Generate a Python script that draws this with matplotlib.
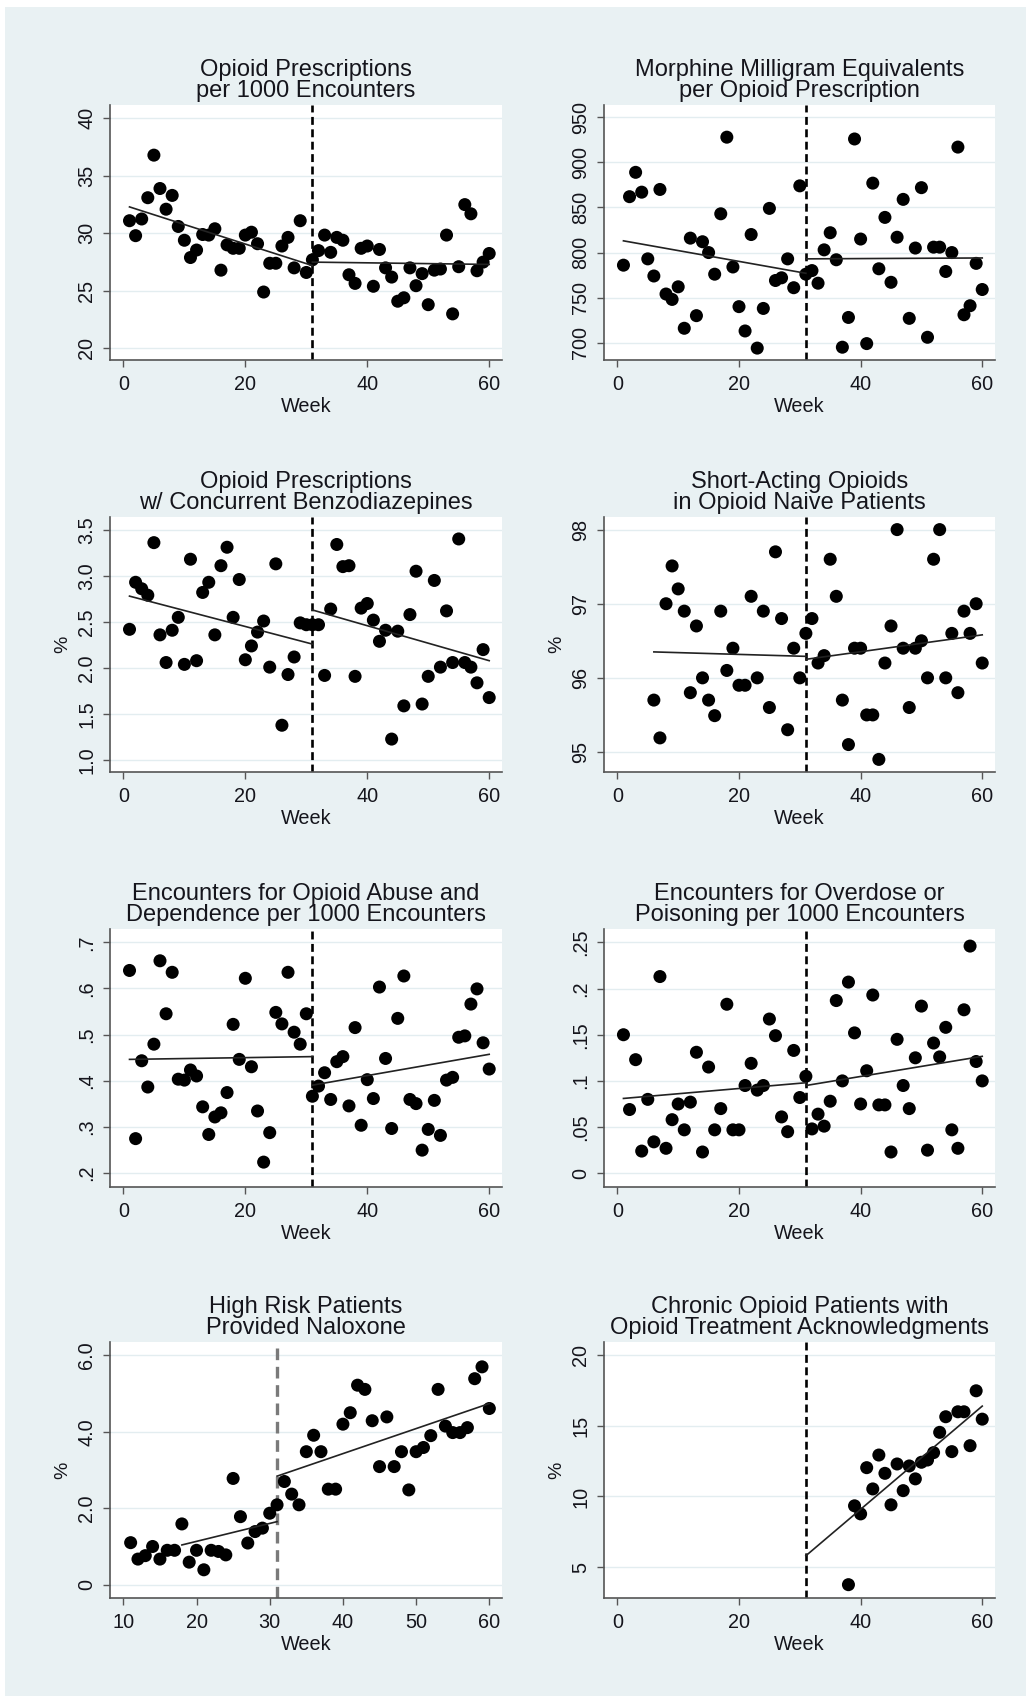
import numpy as np
import matplotlib
matplotlib.use("Agg")
import matplotlib.pyplot as plt
from matplotlib.patches import Rectangle

plt.rcParams['font.family'] = ['Liberation Sans', 'DejaVu Sans']

# ---- data ----
titles = [
    "Opioid Prescriptions\nper 1000 Encounters",
    "Morphine Milligram Equivalents\nper Opioid Prescription",
    "Opioid Prescriptions\nw/ Concurrent Benzodiazepines",
    "Short-Acting Opioids\nin Opioid Naive Patients",
    "Encounters for Opioid Abuse and\nDependence per 1000 Encounters",
    "Encounters for Overdose or\nPoisoning per 1000 Encounters",
    "High Risk Patients\nProvided Naloxone",
    "Chronic Opioid Patients with\nOpioid Treatment Acknowledgments",
]

weeks_all = np.arange(1, 61)
weeks_sa = np.arange(6, 61)
weeks_nal = np.arange(11, 61)
weeks_ota = np.arange(38, 61)

rx_per_1000 = [31.1, 29.8, 31.25, 33.1, 36.8, 33.9, 32.1, 33.3, 30.6, 29.4,
               27.9, 28.55, 29.9, 29.85, 30.4, 26.8, 29.0, 28.7, 28.7, 29.85,
               30.1, 29.1, 24.9, 27.4, 27.4, 28.9, 29.65, 27.0, 31.1, 26.6,
               27.7, 28.5, 29.85, 28.35, 29.65, 29.4, 26.4, 25.65, 28.7, 28.9,
               25.4, 28.6, 27.0, 26.2, 24.1, 24.4, 27.0, 25.45, 26.5, 23.8,
               26.8, 26.9, 29.85, 23.0, 27.1, 32.5, 31.7, 26.75, 27.5, 28.25]

mme_per_rx = [786, 862, 889, 867, 793, 774, 870, 754, 748, 762,
              716, 816, 730, 812, 800, 776, 843, 928, 784, 740,
              713, 820, 694, 738, 849, 769, 772, 793, 761, 874,
              776, 780, 766, 803, 822, 792, 695, 728, 926, 815,
              699, 877, 782, 839, 767, 817, 859, 727, 805, 872,
              706, 806, 806, 779, 800, 917, 731, 741, 788, 759]

benzo_pct = [2.42, 2.93, 2.86, 2.79, 3.36, 2.36, 2.06, 2.41, 2.55, 2.04,
             3.18, 2.08, 2.82, 2.93, 2.36, 3.11, 3.31, 2.55, 2.96, 2.09,
             2.24, 2.39, 2.51, 2.01, 3.13, 1.38, 1.93, 2.12, 2.49, 2.47,
             2.47, 2.47, 1.92, 2.64, 3.34, 3.10, 3.11, 1.91, 2.65, 2.70,
             2.52, 2.29, 2.41, 1.23, 2.40, 1.59, 2.58, 3.05, 1.61, 1.91,
             2.95, 2.01, 2.62, 2.06, 3.40, 2.06, 2.01, 1.84, 2.20, 1.68]

short_acting_pct = [95.70, 95.19, 97.0, 97.51, 97.2, 96.9, 95.8, 96.7, 96.0, 95.7,
                    95.49, 96.9, 96.1, 96.4, 95.9, 95.9, 97.1, 96.0, 96.9, 95.6,
                    97.7, 96.8, 95.3, 96.4, 96.0, 96.6, 96.8, 96.2, 96.3, 97.6,
                    97.1, 95.7, 95.1, 96.4, 96.4, 95.5, 95.5, 94.9, 96.2, 96.7,
                    98.0, 96.4, 95.6, 96.4, 96.5, 96.0, 97.6, 98.0, 96.0, 96.6,
                    95.8, 96.9, 96.6, 97.0, 96.2]

abuse_per_1000 = [0.639, 0.274, 0.443, 0.386, 0.479, 0.660, 0.545, 0.635, 0.403, 0.401,
                  0.423, 0.410, 0.343, 0.283, 0.321, 0.330, 0.374, 0.522, 0.446, 0.622,
                  0.430, 0.334, 0.223, 0.287, 0.548, 0.523, 0.635, 0.505, 0.479, 0.545,
                  0.366, 0.388, 0.417, 0.359, 0.441, 0.452, 0.345, 0.515, 0.303, 0.402,
                  0.361, 0.603, 0.448, 0.296, 0.535, 0.627, 0.359, 0.350, 0.249, 0.294,
                  0.357, 0.281, 0.401, 0.407, 0.494, 0.497, 0.566, 0.599, 0.482, 0.425]

overdose_per_1000 = [0.150, 0.069, 0.123, 0.024, 0.080, 0.034, 0.213, 0.027, 0.058, 0.075,
                     0.047, 0.077, 0.131, 0.023, 0.115, 0.047, 0.070, 0.183, 0.047, 0.047,
                     0.095, 0.119, 0.090, 0.095, 0.167, 0.149, 0.061, 0.045, 0.133, 0.082,
                     0.105, 0.048, 0.064, 0.051, 0.078, 0.187, 0.100, 0.207, 0.152, 0.075,
                     0.111, 0.193, 0.074, 0.074, 0.023, 0.145, 0.095, 0.070, 0.125, 0.181,
                     0.025, 0.141, 0.126, 0.158, 0.047, 0.027, 0.177, 0.246, 0.121, 0.100]

naloxone_pct = [1.10, 0.67, 0.76, 1.00, 0.67, 0.90, 0.90, 1.59, 0.59, 0.90,
                0.39, 0.90, 0.87, 0.78, 2.78, 1.78, 1.09, 1.39, 1.48, 1.87,
                2.09, 2.70, 2.37, 2.09, 3.48, 3.91, 3.48, 2.50, 2.50, 4.20,
                4.50, 5.22, 5.11, 4.29, 3.09, 4.39, 3.09, 3.48, 2.48, 3.48,
                3.59, 3.90, 5.11, 4.15, 3.98, 3.98, 4.11, 5.39, 5.70, 4.61]

ota_pct = [3.78, 9.34, 8.77, 12.03, 10.53, 12.92, 11.63, 9.41, 12.29, 10.41,
           12.15, 11.24, 12.41, 12.57, 13.09, 14.52, 15.62, 13.16, 15.97, 15.97,
           13.58, 17.45, 15.45]

# fitted segments (week endpoints, fitted values) as drawn in the figure
fit_rx = [([1, 31], [32.3, 27.2]), ([31, 60], [27.5, 27.3])]
fit_mme = [([1, 31], [813, 777]), ([31, 60], [793, 794])]
fit_benzo = [([1, 31], [2.78, 2.26]), ([31, 60], [2.63, 2.08])]
fit_sa = [([6, 31], [96.35, 96.29]), ([31, 60], [96.25, 96.58])]
fit_abuse = [([1, 31], [0.446, 0.452]), ([31, 60], [0.390, 0.457])]
fit_od = [([1, 31], [0.081, 0.098]), ([31, 60], [0.095, 0.1266])]
fit_nal = [([18, 31], [1.04, 1.65]), ([31, 60], [2.84, 4.74])]
fit_ota = [([31, 60], [5.82, 16.37])]

intervention_week = 31

yticks_rx = [20, 25, 30, 35, 40]
yticks_mme = [700, 750, 800, 850, 900, 950]
yticks_benzo = [1.0, 1.5, 2.0, 2.5, 3.0, 3.5]
ylabels_benzo = ["1.0", "1.5", "2.0", "2.5", "3.0", "3.5"]
yticks_sa = [95, 96, 97, 98]
yticks_abuse = [0.2, 0.3, 0.4, 0.5, 0.6, 0.7]
ylabels_abuse = [".2", ".3", ".4", ".5", ".6", ".7"]
yticks_od = [0, 0.05, 0.1, 0.15, 0.2, 0.25]
ylabels_od = ["0", ".05", ".1", ".15", ".2", ".25"]
yticks_nal = [0, 2, 4, 6]
ylabels_nal = ["0", "2.0", "4.0", "6.0"]
yticks_ota = [5, 10, 15, 20]

# ---- styling ----
BG = '#e9f1f3'
GRID = '#e3edf0'
TXT = '#15151c'
AX = '#555555'

fig = plt.figure(figsize=(10.26, 16.96), dpi=100, facecolor='white')
fig.patches.append(Rectangle((5 / 1026, 0), 1, 1 - 7 / 1696, transform=fig.transFigure,
                             facecolor=BG, edgecolor='none', zorder=-10))

W, H = 1026, 1696
cols = [(110, 502), (604, 995)]
rows = [(105, 360), (517, 772), (929, 1187), (1342, 1598)]


def make_ax(r, c):
    x0, x1 = cols[c]
    y0, y1 = rows[r]
    return fig.add_axes([x0 / W, 1 - y1 / H, (x1 - x0) / W, (y1 - y0) / H])


def panel(ax, title, weeks, vals, fits, ylim, yticks, ylabels=None,
          xlim=(-2.2, 62.1), xticks=(0, 20, 40, 60), ylabel=None, gray_vline=False):
    ax.set_facecolor('white')
    for s in ['top', 'right']:
        ax.spines[s].set_visible(False)
    for s in ['left', 'bottom']:
        ax.spines[s].set_color(AX)
        ax.spines[s].set_linewidth(1.2)
    ax.set_xlim(*xlim)
    ax.set_ylim(*ylim)
    ax.set_xticks(list(xticks))
    ax.set_yticks(yticks)
    if ylabels is not None:
        ax.set_yticklabels(ylabels)
    for t in yticks:
        ax.axhline(t, color=GRID, lw=1.0, zorder=0)
    ax.tick_params(axis='both', length=5, width=1.0, color=AX, labelsize=14.3,
                   labelcolor=TXT)
    ax.tick_params(axis='x', pad=6)
    ax.tick_params(axis='y', pad=5, labelrotation=90)
    for lab in ax.get_yticklabels():
        lab.set_va('center')
    if gray_vline:
        ax.axvline(intervention_week, color='#7a7a7a', lw=2.4, ls=(0, (3.5, 2)), zorder=1)
    else:
        ax.axvline(intervention_week, color='black', lw=1.9, ls=(0, (3, 1.7)), zorder=1)
    ax.scatter(weeks, vals, s=88, color='black', edgecolors='none', zorder=3)
    for fx, fy in fits:
        ax.plot(fx, fy, color='#222222', lw=1.2, zorder=4)
    ax.set_title(title, fontsize=17, color=TXT, pad=6, linespacing=0.95)
    ax.set_xlabel("Week", fontsize=14.3, color=TXT, labelpad=2)
    if ylabel:
        ax.set_ylabel(ylabel, fontsize=14, color=TXT)
        ax.yaxis.set_label_coords(-0.10, 0.5)


panel(make_ax(0, 0), titles[0], weeks_all, rx_per_1000, fit_rx, (18.99, 41.16), yticks_rx)
panel(make_ax(0, 1), titles[1], weeks_all, mme_per_rx, fit_mme, (680.8, 963.7), yticks_mme)
panel(make_ax(1, 0), titles[2], weeks_all, benzo_pct, fit_benzo, (0.873, 3.638),
      yticks_benzo, ylabels_benzo, ylabel='%')
panel(make_ax(1, 1), titles[3], weeks_sa, short_acting_pct, fit_sa, (94.73, 98.17),
      yticks_sa, ylabel='%')
panel(make_ax(2, 0), titles[4], weeks_all, abuse_per_1000, fit_abuse, (0.169, 0.729),
      yticks_abuse, ylabels_abuse)
panel(make_ax(2, 1), titles[5], weeks_all, overdose_per_1000, fit_od, (-0.0149, 0.2645),
      yticks_od, ylabels_od)
panel(make_ax(3, 0), titles[6], weeks_nal, naloxone_pct, fit_nal, (-0.348, 6.35),
      yticks_nal, ylabels_nal, xlim=(8.18, 61.73), xticks=(10, 20, 30, 40, 50, 60),
      ylabel='%', gray_vline=True)
panel(make_ax(3, 1), titles[7], weeks_ota, ota_pct, fit_ota, (2.84, 20.89),
      yticks_ota, ylabel='%')

fig.savefig("out.png", dpi=100, facecolor=fig.get_facecolor())
